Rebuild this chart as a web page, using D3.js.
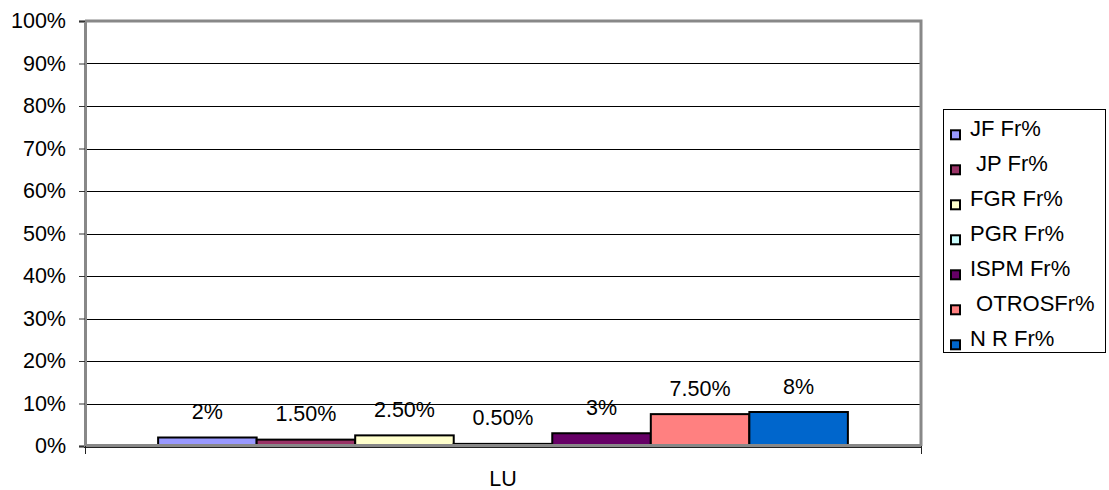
<!DOCTYPE html>
<html>
<head>
<meta charset="utf-8">
<script src="https://cdn.jsdelivr.net/npm/d3@7"></script>
<style>
  html, body { margin: 0; padding: 0; background: #fff; }
  svg { display: block; font-family: "Liberation Sans", Arial, sans-serif; }
</style>
</head>
<body>
<svg id="chart" width="1109" height="490"></svg>
<script>
// Category on the x axis
const categories = ["LU"];
// One series per group, each with a single value (fraction)
const seriesNames = ["JF Fr%", " JP Fr%", "FGR Fr%", "PGR Fr%", "ISPM Fr%", " OTROSFr%", "N R Fr%"];
const seriesValues = [0.02, 0.015, 0.025, 0.005, 0.03, 0.075, 0.08];
const valueLabels = ["2%", "1.50%", "2.50%", "0.50%", "3%", "7.50%", "8%"];
const seriesColors = ["#9999FF", "#993366", "#FFFFCC", "#CCFFFF", "#660066", "#FF8080", "#0066CC"];
const yTicks = [0, 0.1, 0.2, 0.3, 0.4, 0.5, 0.6, 0.7, 0.8, 0.9, 1.0];

const FONT = "21.5px";
const LEGEND_FONT = "22px";
const svg = d3.select("#chart");
const plot = { left: 85, right: 921, top: 21, bottom: 446 };

const y = d3.scaleLinear().domain([0, 1]).range([plot.bottom, plot.top]);
const x0 = d3.scaleBand().domain(categories).range([plot.left, plot.right])
  .paddingInner(0).paddingOuter(0.106);
const x1 = d3.scaleBand().domain(seriesNames).range([0, x0.bandwidth()]).padding(0);

// Horizontal gridlines
svg.append("g")
  .selectAll("line")
  .data(yTicks.filter(t => t > 0 && t < 1))
  .join("line")
  .attr("x1", plot.left).attr("x2", plot.right)
  .attr("y1", d => Math.round(y(d)) + 0.5).attr("y2", d => Math.round(y(d)) + 0.5)
  .attr("stroke", "#000").attr("stroke-width", 1);

// Plot frame (top and right)
svg.append("path")
  .attr("d", `M${plot.left},${plot.top}H${plot.right}V${plot.bottom}`)
  .attr("fill", "none").attr("stroke", "#888").attr("stroke-width", 3);

// Y axis
const yAxis = d3.axisLeft(y).tickValues(yTicks).tickFormat(d3.format(".0%")).tickSize(6).tickPadding(13);
const gy = svg.append("g").attr("transform", `translate(${plot.left},0)`).call(yAxis);
gy.select(".domain").attr("stroke", "#888").attr("stroke-width", 3);
gy.selectAll(".tick line").attr("stroke", "#333");
gy.selectAll(".tick text").attr("font-size", FONT).attr("fill", "#000")
  .attr("font-family", "Liberation Sans, Arial, sans-serif");

// Bars
const group = svg.append("g").attr("transform", `translate(${x0("LU")},0)`);
group.selectAll("rect")
  .data(seriesNames.map((n, i) => ({ name: n, value: seriesValues[i], color: seriesColors[i] })))
  .join("rect")
  .attr("x", d => x1(d.name))
  .attr("y", d => y(d.value))
  .attr("width", x1.bandwidth())
  .attr("height", d => y(0) - y(d.value))
  .attr("fill", d => d.color)
  .attr("stroke", "#000").attr("stroke-width", 2);

// Value labels above bars
group.selectAll("text")
  .data(seriesNames.map((n, i) => ({ name: n, value: seriesValues[i], label: valueLabels[i] })))
  .join("text")
  .attr("x", d => x1(d.name) + x1.bandwidth() / 2)
  .attr("y", d => y(d.value) - 18.5)
  .attr("text-anchor", "middle")
  .attr("font-size", FONT)
  .attr("fill", "#000")
  .text(d => d.label);

// X axis
const xAxis = d3.axisBottom(x0).tickSize(0).tickPadding(25);
const gx = svg.append("g").attr("transform", `translate(0,${plot.bottom})`).call(xAxis);
gx.select(".domain").remove();
gx.append("line").attr("x1", plot.left - 1).attr("x2", plot.right + 1)
  .attr("y1", -0.5).attr("y2", -0.5).attr("stroke", "#888").attr("stroke-width", 3);
gx.append("line").attr("x1", plot.left - 1).attr("x2", plot.right + 1)
  .attr("y1", 1.5).attr("y2", 1.5).attr("stroke", "#222").attr("stroke-width", 1);
// Category boundary ticks
[plot.left, plot.right].forEach(px => {
  gx.append("line").attr("x1", px + 0.5).attr("x2", px + 0.5)
    .attr("y1", 0).attr("y2", 8).attr("stroke", "#222").attr("stroke-width", 1);
});
gx.selectAll(".tick text").attr("font-size", FONT).attr("fill", "#000")
  .attr("font-family", "Liberation Sans, Arial, sans-serif");

// Legend
const legend = svg.append("g").attr("transform", "translate(943.5,109.5)");
legend.append("rect").attr("width", 162).attr("height", 243)
  .attr("fill", "#fff").attr("stroke", "#000").attr("stroke-width", 1);
const items = legend.selectAll("g.item")
  .data(seriesNames.map((n, i) => ({ name: n, color: seriesColors[i] })))
  .join("g").attr("class", "item")
  .attr("transform", (d, i) => `translate(0,${26.5 + i * 35})`);
items.append("rect")
  .attr("x", 7.5).attr("y", -5.7).attr("width", 9).attr("height", 9)
  .attr("fill", d => d.color).attr("stroke", "#000").attr("stroke-width", 2);
items.append("text")
  .attr("x", 26.5).attr("y", 0)
  .attr("font-size", LEGEND_FONT).attr("fill", "#000")
  .style("white-space", "pre")
  .text(d => d.name);
</script>
</body>
</html>
